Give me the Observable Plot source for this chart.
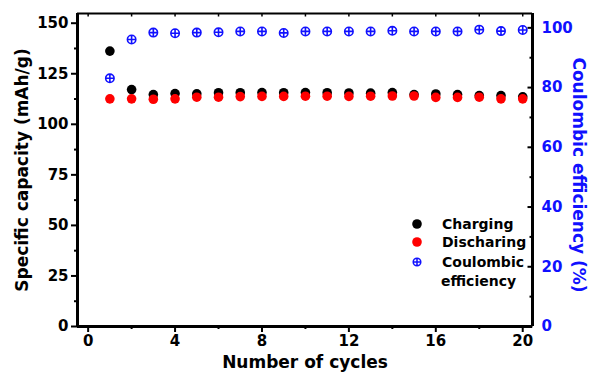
<!DOCTYPE html>
<html>
<head>
<meta charset="utf-8">
<script src="https://cdn.jsdelivr.net/npm/d3@7"></script>
<script src="https://cdn.jsdelivr.net/npm/@observablehq/plot@0.6"></script>
<style>
  html, body { margin: 0; padding: 0; background: #fff; }
  #wrap { position: relative; width: 591px; height: 373px; overflow: hidden; }
  #legend { position: absolute; left: 0; top: 0; }
</style>
</head>
<body>
<div id="wrap"></div>
<script>
// ---- data ----
const cycles = [1,2,3,4,5,6,7,8,9,10,11,12,13,14,15,16,17,18,19,20];
const charging = [136.2,117.2,114.7,115.2,115.1,115.6,115.6,115.7,115.6,115.7,115.6,115.5,115.4,115.7,114.7,115.0,114.7,114.2,114.2,113.6];
const discharging = [112.6,112.6,112.4,112.6,113.4,113.4,113.7,113.8,113.8,113.9,113.9,113.8,113.9,114.0,114.0,113.3,113.3,113.4,112.6,112.6];
const coulombic = [83.1,96.1,98.4,98.2,98.4,98.5,98.8,98.8,98.3,98.8,98.8,98.8,98.8,99.0,98.8,98.8,98.8,99.4,98.9,99.3];

const xTicks = [0,4,8,12,16,20];
const xMinor = [2,6,10,14,18];
const yTicks = [0,25,50,75,100,125,150];
const yMinor = [12.5,37.5,62.5,87.5,112.5,137.5];
const ceTicks = [0,20,40,60,80,100];
const ceMinor = [10,30,50,70,90];
const legendLabels = ["Charging","Discharing","Coulombic","efficiency"];
const titles = {x: "Number of cycles", y: "Specific capacity (mAh/g)", y2: "Coulombic efficiency (%)"};

const xDomain = [-0.49, 20.45];
const yMax = 154.8, ceMax = 104.8;
const k = yMax / ceMax;
const BLUE = "#1010ff", RED = "#ff0000";

const rows = cycles.map((c, i) => ({cycle: c, charge: charging[i], discharge: discharging[i], ce: coulombic[i]}));

// custom symbols
const crossCircle = {draw(ctx, size) {
  const r = Math.sqrt(size / Math.PI);
  ctx.moveTo(r, 0); ctx.arc(0, 0, r, 0, 2 * Math.PI);
  ctx.moveTo(-r, 0); ctx.lineTo(r, 0);
  ctx.moveTo(0, -r); ctx.lineTo(0, r);
}};
const tickIn = (len, dir) => ({draw(ctx) {
  if (dir === "left") { ctx.moveTo(0, 0); ctx.lineTo(-len, 0); }
  else { ctx.moveTo(0, 0); ctx.lineTo(0, len); }
}});

const FONT = "'DejaVu Sans', Arial, sans-serif";

const chart = Plot.plot({
  width: 591, height: 373,
  marginLeft: 77, marginRight: 59, marginTop: 13, marginBottom: 47,
  style: {fontFamily: FONT, fontWeight: "bold", fontSize: "15px", background: "#fff", color: "#000", overflow: "visible"},
  x: {domain: xDomain},
  y: {domain: [0, yMax]},
  marks: [
    // bottom axis
    Plot.axisX({ticks: xTicks, tickSize: 6, tickPadding: 3, strokeWidth: 2, label: null, fontSize: 15, fontWeight: "bold"}),
    Plot.axisX({ticks: xMinor, tickSize: 3, strokeWidth: 2, tickFormat: () => "", label: null}),
    // left axis
    Plot.axisY({ticks: yTicks, tickSize: 6, tickPadding: 3, strokeWidth: 2, label: null, fontSize: 15, fontWeight: "bold"}),
    Plot.axisY({ticks: yMinor, tickSize: 3, strokeWidth: 2, tickFormat: () => "", label: null}),
    // right axis labels (blue)
    Plot.axisY({anchor: "right", ticks: ceTicks.map(v => v * k), tickSize: 0, tickPadding: 9,
      tickFormat: d => String(Math.round(d / k)), fill: BLUE, label: null, fontSize: 15, fontWeight: "bold"}),
    // inward ticks right
    Plot.dot(ceTicks.map(v => v * k), {y: d => d, frameAnchor: "right", symbol: tickIn(5, "left"), stroke: "#000", strokeWidth: 2, r: 1}),
    Plot.dot(ceMinor.map(v => v * k), {y: d => d, frameAnchor: "right", symbol: tickIn(3, "left"), stroke: "#000", strokeWidth: 2, r: 1}),
    // inward ticks top
    Plot.dot(xTicks.concat(xMinor), {x: d => d, frameAnchor: "top", symbol: tickIn(3, "down"), stroke: "#000", strokeWidth: 1.5, r: 1}),
    // frame lines
    Plot.ruleX([xDomain[0]], {stroke: "#000", strokeWidth: 3}),
    Plot.ruleX([xDomain[1]], {stroke: "#000", strokeWidth: 3}),
    Plot.ruleY([0], {stroke: "#000", strokeWidth: 3}),
    Plot.ruleY([yMax], {stroke: "#000", strokeWidth: 2}),
    // data
    Plot.dot(rows, {x: "cycle", y: "charge", r: 4.8, fill: "#000", stroke: "none"}),
    Plot.dot(rows, {x: "cycle", y: "discharge", r: 4.8, fill: RED, stroke: "none"}),
    Plot.dot(rows, {x: "cycle", y: d => d.ce * k, r: 4.2, symbol: crossCircle, fill: "none", stroke: BLUE, strokeWidth: 1.6}),
    // titles
    Plot.text([titles.x], {frameAnchor: "bottom", dy: 41, textAnchor: "middle", fontSize: 17, fontWeight: "bold", fill: "#000"}),
    Plot.text([titles.y], {frameAnchor: "left", dx: -55, textAnchor: "middle", rotate: -90, fontSize: 17, fontWeight: "bold", fill: "#000"}),
    Plot.text([titles.y2], {frameAnchor: "right", dx: 46, dy: 5, textAnchor: "middle", rotate: 90, fontSize: 17, fontWeight: "bold", fill: BLUE})
  ]
});

const wrap = document.getElementById("wrap");
wrap.appendChild(chart);

// legend overlay
const lg = d3.select(wrap).append("svg").attr("id", "legend").attr("width", 591).attr("height", 373);
const items = [
  {kind: "dot", color: "#000", label: legendLabels[0], y: 224},
  {kind: "dot", color: RED, label: legendLabels[1], y: 242},
  {kind: "ce", color: BLUE, label: legendLabels[2], y: 262}
];
items.forEach(it => {
  if (it.kind === "dot") {
    lg.append("circle").attr("cx", 417).attr("cy", it.y).attr("r", 4.8).attr("fill", it.color);
  } else {
    lg.append("path").attr("transform", `translate(417,${it.y})`)
      .attr("d", d3.symbol(crossCircle, Math.PI * 3.8 * 3.8)())
      .attr("fill", "none").attr("stroke", it.color).attr("stroke-width", 1.5);
  }
  lg.append("text").attr("x", 442).attr("y", it.y).attr("dy", "0.36em")
    .attr("font-family", FONT).attr("font-weight", "bold").attr("font-size", 14).text(it.label);
});
lg.append("text").attr("x", 441).attr("y", 281).attr("dy", "0.36em")
  .attr("font-family", FONT).attr("font-weight", "bold").attr("font-size", 14).text(legendLabels[3]);
</script>
</body>
</html>
